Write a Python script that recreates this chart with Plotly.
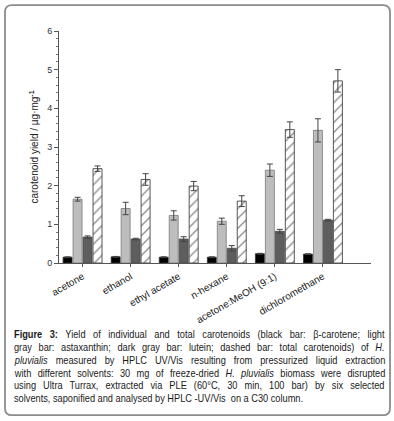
import plotly.graph_objects as go

# ---------------- data ----------------
solvents = ["acetone", "ethanol", "ethyl acetate", "n-hexane", "acetone:MeOH (9:1)", "dichloromethane"]
beta_carotene = [0.15, 0.16, 0.15, 0.15, 0.24, 0.23]
beta_carotene_err = [0.01, 0.01, 0.01, 0.01, 0.01, 0.01]
astaxanthin = [1.65, 1.41, 1.23, 1.08, 2.40, 3.43]
astaxanthin_err = [0.05, 0.16, 0.12, 0.08, 0.16, 0.30]
lutein = [0.67, 0.62, 0.62, 0.38, 0.82, 1.11]
lutein_err = [0.03, 0.02, 0.06, 0.07, 0.05, 0.02]
total = [2.44, 2.16, 1.99, 1.60, 3.45, 4.71]
total_err = [0.07, 0.15, 0.12, 0.14, 0.20, 0.29]
y_ticks = [0, 1, 2, 3, 4, 5, 6]

caption_lines = [
    "<b>Figure 3:</b> Yield of individual and total carotenoids (black bar: β-carotene; light",
    "gray bar: astaxanthin; dark gray bar: lutein; dashed bar: total carotenoids) of <i>H.</i>",
    "<i>pluvialis</i> measured by HPLC UV/Vis resulting from pressurized liquid extraction",
    "with different solvents: 30 mg of freeze-dried <i>H. pluvialis</i> biomass were disrupted",
    "using Ultra Turrax, extracted via PLE (60°C, 30 min, 100 bar) by six selected",
    "solvents, saponified and analysed by HPLC -UV/Vis  on a C30 column.",
]

# ---------------- layout geometry (pixels) ----------------
W, H = 394, 421
L, R, T, B = 59, 23, 31, 157.5
PW, PH = W - L - R, H - T - B


def px(x):
    return (x - L) / PW


def py(y):
    return (H - B - y) / PH


FONT = "Liberation Sans, Arial, sans-serif"

fig = go.Figure()


def err(arr):
    return dict(type="data", array=arr, visible=True, color="#444444", thickness=1, width=3)


fig.add_trace(go.Bar(x=solvents, y=beta_carotene, name="β-carotene",
                     marker=dict(color="#000000", line=dict(color="#333333", width=0.8)),
                     error_y=err(beta_carotene_err)))
fig.add_trace(go.Bar(x=solvents, y=astaxanthin, name="astaxanthin",
                     marker=dict(color="#BDBDBD", line=dict(color="#7A7A7A", width=0.8)),
                     error_y=err(astaxanthin_err)))
fig.add_trace(go.Bar(x=solvents, y=lutein, name="lutein",
                     marker=dict(color="#5E5E5E", line=dict(color="#444444", width=0.8)),
                     error_y=err(lutein_err)))
fig.add_trace(go.Bar(x=solvents, y=total, name="total carotenoids",
                     marker=dict(color="#FFFFFF", line=dict(color="#444444", width=0.9),
                                 pattern=dict(shape="/", fgcolor="#111111", bgcolor="#FFFFFF",
                                              size=7, solidity=0.18)),
                     error_y=err(total_err)))

fig.update_layout(
    width=W, height=H,
    margin=dict(l=L, r=R, t=T, b=B, pad=0),
    paper_bgcolor="white", plot_bgcolor="white",
    barmode="group", bargap=0.17, bargroupgap=0.1,
    showlegend=False,
    font=dict(family=FONT, color="#222222"),
)

fig.update_xaxes(
    range=[-0.49, 6.0], showline=True, linecolor="#555555", linewidth=1,
    ticks="outside", ticklen=3, tickcolor="#555555", tickangle=-30,
    tickfont=dict(size=10, color="#222222"), showgrid=False, zeroline=False,
)
fig.update_yaxes(
    range=[0, 6], tickvals=y_ticks, showline=True, linecolor="#555555", linewidth=1,
    ticks="outside", ticklen=4, tickcolor="#555555",
    minor=dict(dtick=0.2, ticks="outside", ticklen=2, tickcolor="#777777"),
    tickfont=dict(size=9, color="#333333"), showgrid=False, zeroline=False,
    title=dict(text="carotenoid yield / µg·mg<sup><b>-1</b></sup>", font=dict(size=10, color="#222222"),
               standoff=6),
)

# rounded frame
x0p, x1p, y0p, y1p = 5, 390, 5, 416
rad = 7
path = (f"M {x0p + rad},{y0p} L {x1p - rad},{y0p} Q {x1p},{y0p} {x1p},{y0p + rad} "
        f"L {x1p},{y1p - rad} Q {x1p},{y1p} {x1p - rad},{y1p} L {x0p + rad},{y1p} "
        f"Q {x0p},{y1p} {x0p},{y1p - rad} L {x0p},{y0p + rad} Q {x0p},{y0p} {x0p + rad},{y0p} Z")


def conv_path(p):
    out = []
    for tok in p.split(" "):
        if "," in tok:
            a, b = tok.split(",")
            out.append(f"{px(float(a)):.5f},{py(float(b)):.5f}")
        else:
            out.append(tok)
    return " ".join(out)


fig.add_shape(type="path", path=conv_path(path), xref="paper", yref="paper",
              line=dict(color="#8C8C8C", width=1.8), fillcolor="rgba(0,0,0,0)", layer="below")

# caption
for i, line in enumerate(caption_lines):
    fig.add_annotation(text=line, xref="paper", yref="paper", x=px(12), y=py(335 + i * 12.8),
                       xanchor="left", yanchor="middle", showarrow=False, align="left",
                       font=dict(size=10.5, color="#1A1A1A", family=FONT))

post = """
document.body.style.margin='0';
document.body.style.padding='0';
var done = false;
function justifyCaption(){
  if (done) return;
  var gd = document.getElementById('{plot_id}');
  var anns = gd.querySelectorAll('g.annotation');
  if (!anns.length) return;
  var target = 371, sx = 0.88;
  anns.forEach(function(g){
    var idx = parseInt(g.getAttribute('data-index'));
    if (isNaN(idx) || idx > 5) return;
    var t = g.querySelector('text.annotation-text');
    if (!t) return;
    t.style.wordSpacing = '0px';
    var w = t.getComputedTextLength();
    var n = (t.textContent.match(/ /g) || []).length;
    if (idx <= 4 && n > 0) t.style.wordSpacing = ((target / sx - w) / n) + 'px';
    var bb = t.getBBox();
    var x0 = bb.x;
    var old = t.getAttribute('transform') || '';
    t.setAttribute('transform', old + ' translate(' + x0 + ',0) scale(' + sx + ',1) translate(' + (-x0) + ',0)');
  });
  done = true;
}
justifyCaption();
setTimeout(justifyCaption, 50);
"""

fig.write_html("out.html", post_script=post, config={"displayModeBar": False})
